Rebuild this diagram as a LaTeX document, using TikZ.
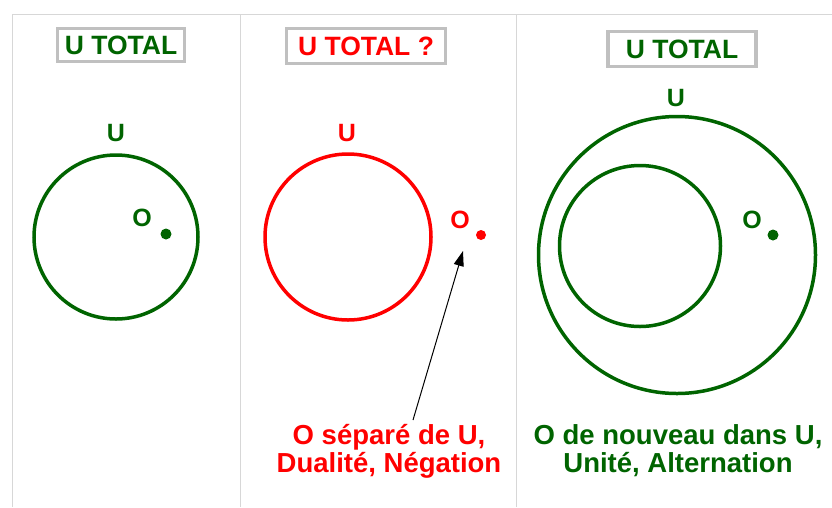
\documentclass[tikz,border=0pt]{standalone}
\usepackage{fontspec}
\setmainfont{Liberation Sans}
\usetikzlibrary{arrows.meta}
\definecolor{dgreen}{RGB}{0,100,0}
\definecolor{boxgray}{RGB}{192,192,192}
\definecolor{divgray}{RGB}{215,215,215}
\begin{document}
\begin{tikzpicture}[x=1pt,y=-1pt,
  title/.style={draw=boxgray,line width=3.5pt,fill=white,font=\bfseries\fontsize{26.5}{30}\selectfont,inner xsep=6pt,inner ysep=4pt},
  lbl/.style={font=\bfseries\fontsize{25}{28}\selectfont},
  ring/.style={line width=3.5pt},
  captext/.style={font=\bfseries\fontsize{27.5}{28}\selectfont,align=center}]
\useasboundingbox (0,0) rectangle (832,507);
% frame lines
\draw[divgray,line width=1pt] (12,14) -- (832,14);
\draw[divgray,line width=1pt] (12,14) -- (12,507);
\draw[divgray,line width=1pt] (240,14) -- (240,507);
\draw[divgray,line width=1pt] (516,14) -- (516,507);
% titles
\node[title,text=dgreen,minimum width=127pt,minimum height=33pt] (t1) at (121,45) {U TOTAL};
\node[title,text=red,minimum width=159pt,minimum height=35pt] (t2) at (366,46) {U TOTAL ?};
\node[title,text=dgreen,minimum width=148pt,minimum height=35pt] (t3) at (682,49) {U TOTAL};
% panel 1
\draw[dgreen,ring] (116,237) circle[radius=82];
\node[lbl,text=dgreen] (u1) at (116,133) {U};
\node[lbl,text=dgreen] (o1) at (142,218) {O};
\fill[dgreen] (166,234) circle[radius=5.5] coordinate (d1);
% panel 2
\draw[red,ring] (348,237) circle[radius=83];
\node[lbl,text=red] (u2) at (347,133) {U};
\node[lbl,text=red] (o2) at (460,220) {O};
\fill[red] (481,235) circle[radius=5] coordinate (d2);
\coordinate (a2) at (463,251);
\node[captext,text=red] (c2) at (389,451) {O séparé de U,\\Dualité, Négation};
\draw[-{Triangle[length=15pt,width=10pt]},line width=1pt] (413,420) -- (a2);
% panel 3
\draw[dgreen,ring] (677,255) circle[radius=138.5];
\draw[dgreen,ring] (640,246) circle[radius=80.5];
\node[lbl,text=dgreen] (u3) at (676,98) {U};
\node[lbl,text=dgreen] (o3) at (752,220) {O};
\fill[dgreen] (773,235) circle[radius=5.5] coordinate (d3);
\node[captext,text=dgreen] (c3) at (678,451) {O de nouveau dans U,\\Unité, Alternation};
\end{tikzpicture}
\end{document}
